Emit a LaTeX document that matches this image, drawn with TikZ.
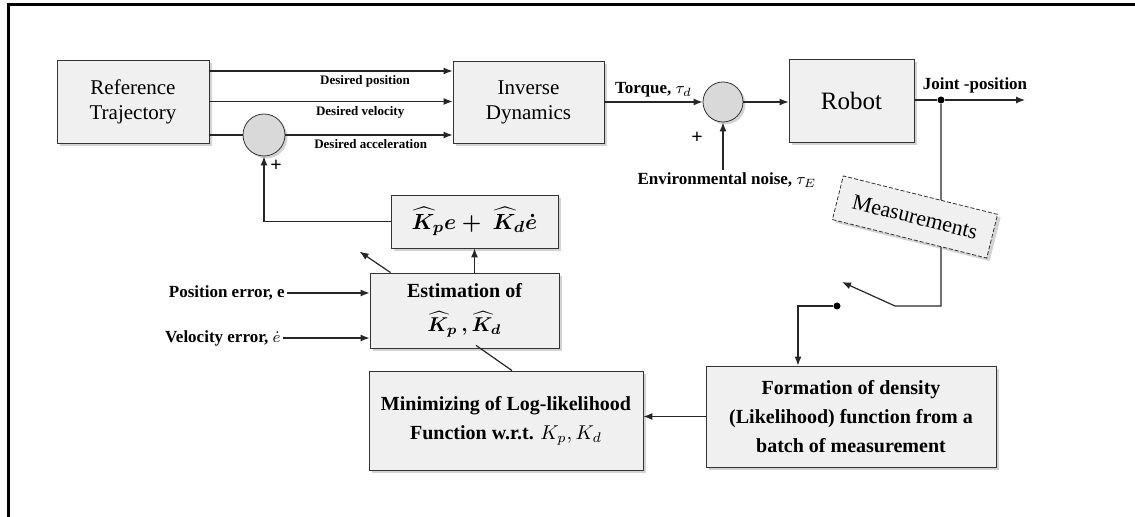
\documentclass[tikz,border=0pt]{standalone}
\usepackage{amsmath}
\usepackage{fontspec}
\setmainfont{Liberation Serif}
\usetikzlibrary{positioning,arrows.meta,shadows,backgrounds}

\begin{document}
\begin{tikzpicture}[
  x=0.5pt, y=-0.5pt,
  box/.style={draw=black!80, fill=black!6, align=center, inner sep=2pt,
              drop shadow={opacity=0.35, shadow xshift=1.5pt, shadow yshift=-1.5pt}},
  bigbox/.style={box, font=\fontsize{10.5}{12.5}\selectfont},
  lowbox/.style={box, font=\fontsize{10}{14.5}\selectfont\bfseries},
  sumnode/.style={circle, draw=black!80, fill=black!15, minimum size=20pt, inner sep=0pt,
              drop shadow={opacity=0.35, shadow xshift=1.2pt, shadow yshift=-1.2pt}},
  dot/.style={circle, fill=black, inner sep=0pt, minimum size=3.5pt},
  wire/.style={draw=black!85, line width=0.6pt},
  flow/.style={wire, -{Latex[length=4.5pt,width=3.5pt]}},
  sig/.style={font=\fontsize{8.5}{10}\selectfont\bfseries, inner sep=1pt},
  deslbl/.style={font=\fontsize{6.5}{7}\selectfont\bfseries, inner sep=1pt}
]
\useasboundingbox (0,0) rectangle (1135,517);
% frame (top and left edge only)
\draw[line width=1.5pt] (8,517) |- (1135,5);
% top row
\node[bigbox, minimum width=76pt, minimum height=41.5pt] (reftraj) at (133,101.5) {Reference\\Trajectory};
\node[bigbox, minimum width=75.5pt, minimum height=41pt] (invdyn) at (528.5,102) {Inverse\\Dynamics};
\node[sumnode] (sumtau) at (723,102) {};
\node[box, font=\fontsize{12.5}{14}\selectfont, minimum width=62.5pt, minimum height=41.5pt] (robot) at (851.5,100.5) {Robot};
\node[sumnode, minimum size=21pt] (sumacc) at (264,135) {};
% adaptation loop
\node[box, font=\fontsize{11}{13}\selectfont\boldmath, minimum width=83.5pt, minimum height=26.5pt] (gain) at (474.5,221.5) {$\widehat{K}_p e+\ \widehat{K}_d\dot{e}$};
\node[lowbox, font=\fontsize{10}{17}\selectfont\bfseries\boldmath, minimum width=94.5pt, minimum height=37.5pt] (estim) at (464.5,310.5) {Estimation of\\$\widehat{K}_p\,,\widehat{K}_d$};
\node[lowbox, minimum width=137pt, minimum height=49.5pt] (minim) at (506,420.5) {Minimizing of Log-likelihood\\Function w.r.t. $K_p, K_d$};
\node[lowbox, minimum width=145pt, minimum height=50.5pt] (formation) at (851,416.5) {Formation of density\\(Likelihood) function from a\\batch of measurement};
\node[box, dash pattern=on 2pt off 1pt, rotate=-14, font=\fontsize{11}{13}\selectfont, minimum width=79.5pt, minimum height=22.5pt] (meas) at (915,217) {Measurements};
% dots, switch and free ends
\node[dot] (jdot) at (941,100) {};
\node[dot] (sdot) at (837,306) {};
\coordinate (jout) at (1025,100);
\coordinate (swbend) at (895,306);
\coordinate (swtip) at (842,282);
\coordinate (d1) at (reftraj.east |- 0,71);
% labels
\node[sig] (jlbl) at (975,85) {Joint -position};
\node[sig] (noise) at (727,180) {Environmental noise, $\tau_E$};
\node[sig, anchor=east] (perr) at (287,293) {Position error, e};
\node[sig, anchor=east] (verr) at (283,338) {Velocity error, $\dot{e}$};
\node[font=\fontsize{10}{10}\selectfont\bfseries, inner sep=0pt] (plustau) at (697,138) {+};
\node[font=\fontsize{10}{10}\selectfont\bfseries, inner sep=0pt] (plusacc) at (276,166) {+};
% desired signals
\draw[flow] (d1) -- (d1 -| invdyn.west) node[deslbl, pos=0.64, below=1pt] {Desired position};
\draw[flow] (reftraj.east) -- (reftraj.east -| invdyn.west) node[deslbl, pos=0.62, below=1pt] {Desired velocity};
\draw[wire] (reftraj.east |- sumacc) -- (sumacc.west);
\draw[flow] (sumacc.east) -- (sumacc.east -| invdyn.west) node[deslbl, pos=0.51, below=1pt] {Desired acceleration};
% torque and plant
\draw[flow] (invdyn.east |- sumtau) -- (sumtau.west) node[sig, midway, above=1pt] {Torque, $\tau_d$};
\draw[flow] (noise.north -| sumtau) -- (sumtau.south);
\draw[flow] (sumtau.east) -- (sumtau.east -| robot.west);
\draw[wire] (robot.east |- jdot) -- (jdot);
\draw[flow] (jdot) -- (jout);
% measurement path behind the dashed box
\begin{scope}[on background layer]
\draw[flow] (jdot) |- (swbend) -- (swtip);
\end{scope}
\draw[flow] (sdot) -| ([xshift=-26.5pt]formation.north);
\draw[flow] (formation.west) -- (formation.west -| minim.east);
\draw[wire] ([xshift=3pt]minim.north) -- ([xshift=5.75pt,yshift=1.5pt]estim.south);
% estimation and feedback
\draw[flow] (perr.east) -- (perr.east -| estim.west);
\draw[flow] (verr.east) -- (verr.east -| estim.west);
\draw[flow] (estim.north -| gain) -- (gain.south);
\draw[flow] ([xshift=10.5pt]estim.north west) -- ++(-31,-21);
\draw[flow] (gain.west) -| (sumacc.south);
\end{tikzpicture}
\end{document}
